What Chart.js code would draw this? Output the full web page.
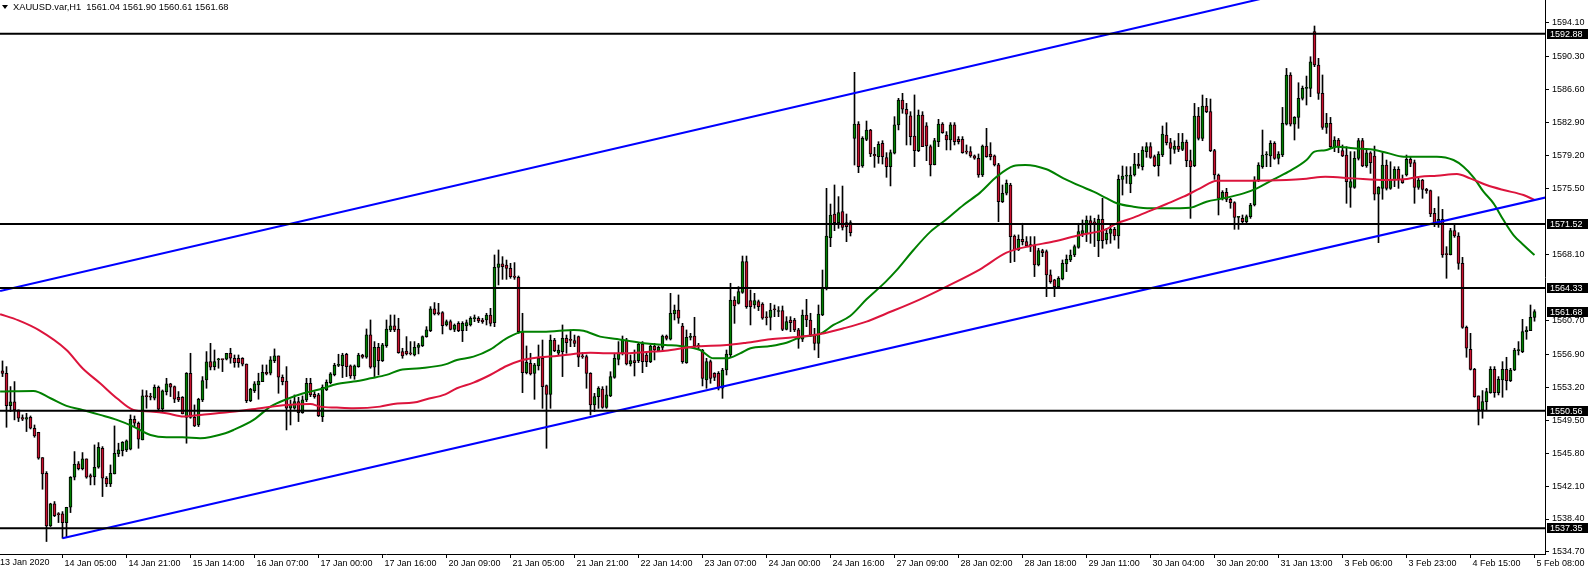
<!DOCTYPE html>
<html><head><meta charset="utf-8">
<script src="https://cdn.jsdelivr.net/npm/chart.js@4.4.1/dist/chart.umd.min.js"></script>
<style>html,body{margin:0;padding:0;background:#fff;overflow:hidden}canvas{display:block}</style>
</head><body>
<canvas id="c" width="1588" height="570"></canvas>
<script>
const chartTitle = 'XAUUSD.var,H1  1561.04 1561.90 1560.61 1561.68';

const opens = [
1555.03,1554.76,1551.13,1551.55,1550.65,1549.79,1549.60,1549.82,1548.59,1548.14,
1545.30,1543.54,1537.62,1540.10,1538.97,1538.97,1538.00,1539.72,1543.09,1544.59,
1544.06,1545.15,1543.28,1543.16,1544.21,1546.34,1542.98,1542.34,1543.46,1545.71,
1546.08,1546.16,1546.23,1549.60,1549.15,1547.28,1552.22,1552.15,1551.96,1553.19,
1550.76,1552.71,1553.57,1553.27,1552.07,1552.07,1549.82,1554.76,1549.82,1548.96,
1551.77,1554.02,1556.07,1555.51,1556.26,1556.34,1556.34,1557.01,1556.45,1556.45,
1556.45,1555.81,1551.70,1552.82,1553.46,1553.83,1554.88,1554.77,1556.19,1556.71,
1554.32,1553.90,1550.84,1550.84,1551.58,1550.35,1551.77,1553.64,1552.41,1552.33,
1549.90,1552.89,1553.72,1554.62,1555.66,1555.63,1556.90,1555.59,1554.47,1555.51,
1556.82,1556.56,1559.07,1555.44,1557.68,1556.19,1557.87,1559.63,1560.08,1559.74,
1557.20,1557.27,1556.97,1556.82,1557.68,1557.87,1558.88,1559.56,1561.99,1561.50,
1561.58,1560.19,1560.56,1559.70,1560.37,1559.55,1560.07,1560.19,1560.90,1560.94,
1560.75,1560.75,1561.31,1560.45,1566.66,1567.04,1566.92,1566.55,1565.69,1565.54,
1559.44,1554.83,1555.88,1554.76,1555.58,1556.44,1553.38,1552.40,1558.50,1557.01,
1557.19,1558.69,1558.50,1558.43,1558.88,1556.63,1556.63,1554.76,1551.20,1552.14,
1553.00,1550.94,1552.21,1554.31,1556.33,1557.01,1558.50,1555.81,1556.18,1556.18,
1558.05,1556.82,1556.07,1557.83,1557.30,1557.68,1558.95,1558.58,1561.42,1561.87,
1560.07,1555.96,1558.80,1558.95,1557.83,1557.38,1554.01,1556.07,1554.76,1554.76,
1553.08,1555.13,1556.82,1562.99,1562.62,1563.85,1567.30,1562.92,1562.43,1562.81,
1562.54,1561.05,1561.05,1561.95,1561.70,1561.80,1559.70,1560.75,1560.75,1559.63,
1558.58,1561.31,1560.75,1559.06,1558.13,1561.31,1564.30,1569.99,1572.65,1571.68,
1572.91,1571.68,1571.68,1581.15,1582.75,1578.04,1581.03,1582.08,1579.35,1579.09,
1580.58,1578.98,1577.97,1579.47,1582.65,1585.45,1584.41,1583.66,1581.41,1579.77,
1583.77,1582.54,1580.21,1578.20,1580.78,1582.76,1581.52,1580.96,1582.65,1581.04,
1581.04,1579.65,1579.65,1579.17,1578.91,1577.03,1580.29,1579.39,1579.17,1578.16,
1574.04,1574.98,1575.91,1570.18,1568.61,1569.81,1569.55,1569.10,1569.17,1566.93,
1568.54,1568.43,1565.81,1565.25,1564.50,1565.36,1567.04,1567.49,1568.05,1568.91,
1570.41,1570.41,1571.91,1571.68,1569.66,1572.06,1569.73,1570.48,1570.93,1570.18,
1576.54,1576.91,1576.02,1577.03,1578.26,1577.96,1579.65,1580.21,1579.09,1578.07,
1579.27,1581.52,1580.66,1579.91,1580.28,1579.91,1580.73,1578.64,1578.07,1583.65,
1581.14,1584.77,1584.14,1579.76,1577.03,1574.41,1575.08,1574.30,1573.92,1572.27,
1572.16,1571.79,1572.35,1573.66,1576.47,1577.96,1579.27,1579.16,1580.58,1578.90,
1579.27,1582.75,1588.26,1582.75,1583.50,1585.64,1586.76,1586.76,1593.12,1589.38,
1586.20,1582.38,1582.83,1580.21,1580.96,1579.76,1579.27,1575.64,1575.64,1578.90,
1580.88,1578.04,1579.53,1579.16,1574.89,1575.53,1578.15,1575.53,1576.47,1577.66,
1576.54,1577.03,1578.79,1578.41,1575.64,1576.47,1575.42,1575.27,1572.72,1571.53,
1572.05,1568.12,1568.08,1570.78,1570.18,1567.11,1559.92,1557.45,1555.21,1552.22,
1550.64,1551.58,1552.59,1555.21,1552.59,1554.01,1555.21,1553.94,1555.13,1557.31,
1557.19,1559.44,1559.55,1561.04];

const highs = [
1556.15,1555.51,1553.27,1553.83,1550.65,1550.09,1550.27,1549.97,1548.96,1548.14,
1545.30,1543.72,1540.17,1540.36,1539.12,1539.23,1539.72,1543.16,1545.97,1544.85,
1545.86,1545.15,1543.46,1546.72,1546.98,1546.53,1543.16,1544.47,1548.85,1546.91,
1547.09,1547.28,1550.09,1549.97,1549.30,1552.89,1552.82,1552.52,1553.46,1553.34,
1552.89,1554.20,1553.64,1553.34,1552.71,1552.15,1554.84,1557.01,1551.21,1551.96,
1554.39,1557.20,1558.13,1557.38,1556.45,1556.34,1557.01,1557.57,1556.82,1556.82,
1556.52,1555.81,1553.08,1553.83,1554.77,1555.70,1555.70,1556.64,1557.50,1556.71,
1554.58,1555.51,1551.77,1552.33,1552.07,1552.22,1554.20,1554.20,1552.71,1552.52,
1553.46,1554.02,1554.84,1555.89,1556.90,1557.01,1557.01,1555.70,1555.70,1557.01,
1556.90,1559.74,1560.75,1558.32,1558.13,1558.13,1560.75,1561.31,1561.31,1560.94,
1557.57,1558.88,1558.32,1558.32,1558.13,1558.96,1560.00,1562.25,1562.70,1562.62,
1561.69,1560.75,1560.75,1560.30,1560.56,1560.56,1560.75,1561.12,1561.31,1561.12,
1560.94,1561.50,1562.06,1568.05,1568.61,1567.86,1567.48,1567.11,1567.19,1565.69,
1561.50,1557.83,1557.01,1555.88,1557.94,1558.50,1553.45,1559.06,1558.69,1557.94,
1560.19,1559.06,1559.63,1559.06,1558.95,1557.08,1556.82,1554.83,1552.51,1553.26,
1553.26,1553.34,1554.94,1557.01,1558.32,1558.95,1558.69,1556.82,1557.38,1558.13,
1558.32,1557.19,1557.94,1558.13,1557.83,1559.06,1559.06,1563.74,1562.43,1563.56,
1560.37,1559.63,1559.25,1561.05,1558.13,1557.45,1556.44,1556.26,1554.83,1554.95,
1555.32,1557.38,1564.87,1563.37,1564.49,1567.93,1567.93,1564.12,1563.74,1562.99,
1562.69,1561.68,1562.62,1562.43,1562.25,1562.32,1561.12,1561.12,1560.94,1559.81,
1561.87,1563.07,1561.50,1559.81,1562.43,1566.36,1575.53,1573.77,1575.91,1574.60,
1575.79,1572.65,1571.90,1588.56,1583.02,1581.33,1583.09,1582.16,1580.13,1580.77,
1580.88,1579.54,1579.84,1583.58,1585.64,1586.20,1585.08,1584.14,1586.02,1584.33,
1584.14,1582.91,1580.40,1581.15,1583.28,1582.91,1581.90,1582.91,1582.91,1581.34,
1581.34,1580.40,1580.21,1579.28,1579.39,1580.40,1582.27,1580.66,1579.28,1578.34,
1575.91,1576.47,1576.10,1570.30,1570.30,1571.61,1570.11,1570.11,1570.11,1568.80,
1568.69,1568.61,1566.37,1565.32,1565.62,1567.49,1568.05,1568.61,1569.17,1571.61,
1571.98,1572.43,1572.43,1572.17,1572.54,1574.41,1571.04,1571.41,1571.15,1577.03,
1578.04,1577.96,1577.96,1579.46,1579.46,1580.21,1580.66,1580.66,1579.27,1579.65,
1582.53,1582.90,1581.14,1580.88,1581.70,1581.70,1580.96,1579.83,1585.07,1584.62,
1586.01,1585.64,1585.56,1579.91,1577.14,1575.27,1575.53,1574.41,1574.03,1572.35,
1572.54,1572.54,1573.85,1576.84,1578.41,1582.08,1579.65,1580.88,1580.77,1579.65,
1584.62,1589.00,1588.52,1583.58,1587.39,1587.02,1588.14,1590.31,1593.76,1590.13,
1588.26,1583.95,1583.50,1581.33,1581.14,1580.40,1580.21,1579.65,1579.65,1581.14,
1581.14,1579.83,1579.65,1580.28,1575.72,1579.53,1578.71,1578.52,1577.96,1577.96,
1577.03,1579.27,1579.09,1578.71,1576.65,1576.54,1575.53,1575.34,1573.29,1574.59,
1573.17,1568.98,1571.04,1571.53,1570.55,1567.78,1560.07,1559.25,1555.32,1552.22,
1552.82,1553.08,1555.51,1555.51,1554.39,1556.07,1556.56,1555.32,1557.57,1558.32,
1560.82,1560.00,1562.43,1561.90];

const lows = [
1554.39,1548.70,1550.46,1549.53,1549.34,1549.45,1548.22,1548.51,1547.58,1545.11,
1541.74,1535.87,1537.55,1538.67,1538.00,1536.24,1536.35,1539.12,1542.79,1543.91,
1543.91,1542.98,1542.23,1542.23,1544.10,1540.92,1542.04,1542.04,1543.46,1545.41,
1545.48,1545.97,1546.16,1548.78,1546.34,1547.28,1550.84,1551.77,1551.77,1550.65,
1550.46,1552.33,1552.15,1551.47,1551.58,1550.20,1546.91,1549.71,1548.78,1548.78,
1551.58,1553.08,1555.14,1555.14,1555.33,1554.95,1556.26,1555.89,1555.44,1555.44,
1555.59,1551.47,1551.58,1552.60,1551.85,1553.83,1554.58,1554.58,1555.96,1552.52,
1553.46,1548.40,1548.96,1550.72,1549.34,1550.27,1551.58,1552.14,1551.96,1549.90,
1549.34,1552.82,1553.57,1554.47,1555.51,1554.28,1554.39,1554.20,1554.09,1555.44,
1556.45,1556.45,1555.33,1554.39,1554.58,1556.08,1557.68,1559.44,1559.44,1557.01,
1556.45,1556.82,1556.82,1556.71,1556.94,1557.76,1558.81,1559.44,1561.31,1561.31,
1559.18,1560.07,1559.63,1559.44,1559.44,1558.32,1559.55,1560.07,1560.56,1560.45,
1560.37,1560.19,1560.07,1560.00,1564.68,1565.31,1565.31,1565.43,1565.31,1559.25,
1552.59,1554.69,1554.57,1551.84,1555.13,1550.83,1546.34,1550.83,1557.19,1556.82,
1554.39,1557.01,1557.75,1557.75,1555.51,1556.44,1553.08,1550.08,1550.46,1550.83,
1550.83,1550.83,1552.14,1554.20,1555.70,1556.82,1555.70,1555.58,1554.46,1555.96,
1554.83,1555.51,1555.96,1556.26,1557.19,1557.38,1558.50,1558.50,1560.75,1560.37,
1555.88,1555.88,1558.50,1557.57,1557.45,1553.34,1553.08,1553.64,1553.94,1552.89,
1551.95,1554.57,1556.63,1560.37,1562.54,1563.74,1562.06,1560.19,1562.06,1561.80,
1560.82,1560.19,1559.63,1561.12,1561.12,1559.55,1559.63,1559.44,1559.44,1557.57,
1558.32,1560.00,1558.88,1557.38,1556.52,1561.23,1564.12,1568.98,1570.78,1571.04,
1570.85,1569.54,1570.18,1578.15,1577.29,1577.89,1580.88,1579.09,1577.89,1578.34,
1578.26,1576.77,1575.80,1579.39,1582.09,1583.96,1580.40,1580.40,1577.97,1579.65,
1580.21,1578.64,1576.92,1578.16,1580.21,1581.71,1579.84,1579.84,1580.40,1580.51,
1579.47,1579.39,1579.02,1578.79,1576.77,1576.85,1579.02,1578.72,1578.04,1571.79,
1573.93,1574.79,1567.19,1567.30,1568.54,1569.17,1568.99,1568.43,1565.62,1566.82,
1567.86,1563.37,1564.87,1563.37,1564.50,1565.25,1566.18,1567.30,1567.86,1568.80,
1570.11,1569.55,1569.36,1568.99,1567.86,1568.80,1569.28,1569.36,1569.73,1568.79,
1574.78,1576.09,1575.04,1576.91,1577.78,1577.59,1579.01,1578.90,1577.96,1576.91,
1579.09,1580.40,1578.26,1579.46,1579.65,1579.76,1577.96,1572.16,1577.96,1580.96,
1580.88,1584.03,1579.65,1576.54,1572.54,1574.22,1574.03,1573.29,1570.93,1570.93,
1571.67,1571.67,1572.16,1573.55,1576.28,1577.78,1577.96,1577.96,1578.79,1578.26,
1579.09,1582.64,1582.53,1580.96,1582.27,1585.45,1584.89,1585.82,1589.19,1585.52,
1582.15,1581.70,1580.02,1579.65,1579.53,1579.09,1573.85,1573.40,1575.53,1578.71,
1577.96,1577.89,1577.21,1574.22,1569.43,1574.30,1575.34,1575.42,1575.72,1575.53,
1576.09,1576.91,1577.96,1573.85,1575.42,1574.41,1574.97,1572.35,1571.23,1571.15,
1567.78,1565.43,1568.05,1570.03,1566.44,1559.81,1556.56,1555.13,1552.07,1548.96,
1549.71,1550.57,1552.52,1552.07,1552.33,1552.07,1552.89,1553.83,1555.06,1556.82,
1557.08,1558.58,1559.55,1560.61];

const closes = [
1554.76,1551.13,1551.55,1550.65,1549.71,1549.60,1549.79,1548.59,1547.73,1545.22,
1543.46,1537.62,1540.10,1538.78,1538.90,1538.00,1539.72,1543.09,1544.55,1544.06,
1545.15,1543.09,1543.09,1544.21,1546.46,1542.98,1542.34,1543.54,1545.78,1546.16,
1547.02,1547.17,1549.60,1549.15,1547.36,1552.22,1552.15,1552.07,1553.19,1550.72,
1552.78,1553.57,1553.19,1551.85,1551.77,1550.20,1554.76,1549.82,1548.85,1551.85,
1553.94,1556.04,1555.44,1556.07,1556.30,1556.30,1557.01,1556.45,1555.96,1555.96,
1555.78,1551.70,1552.97,1553.57,1553.90,1554.88,1554.69,1556.26,1556.71,1554.32,
1553.83,1550.84,1551.21,1551.58,1550.35,1551.77,1553.64,1552.33,1552.14,1550.01,
1553.19,1553.76,1554.69,1555.66,1555.70,1556.82,1555.51,1554.47,1555.59,1556.82,
1556.56,1559.07,1555.44,1557.68,1556.19,1557.95,1559.74,1560.08,1559.63,1557.09,
1556.71,1556.94,1556.94,1557.68,1557.95,1558.88,1559.63,1561.99,1561.43,1561.46,
1560.12,1560.56,1559.70,1560.19,1559.55,1560.37,1560.45,1560.94,1560.94,1560.64,
1560.56,1561.31,1560.37,1566.66,1567.04,1566.74,1566.55,1565.61,1565.54,1559.44,
1554.83,1555.99,1554.69,1555.70,1556.44,1553.26,1552.40,1558.50,1557.30,1557.38,
1558.69,1558.20,1558.45,1558.13,1556.56,1556.60,1554.76,1551.20,1552.14,1553.08,
1550.94,1552.33,1554.39,1556.44,1557.01,1558.50,1555.81,1556.18,1555.96,1558.05,
1556.07,1556.07,1557.83,1557.38,1557.68,1558.95,1558.69,1561.50,1561.87,1560.94,
1556.07,1558.80,1558.88,1557.83,1557.94,1554.20,1556.07,1554.20,1554.31,1553.08,
1555.13,1556.93,1562.99,1562.32,1563.93,1567.30,1562.25,1562.25,1562.92,1562.25,
1560.94,1561.00,1561.87,1561.90,1561.75,1559.70,1560.56,1560.45,1559.63,1558.58,
1561.31,1560.75,1559.06,1558.13,1561.42,1564.30,1570.18,1572.54,1571.68,1572.80,
1571.15,1571.23,1570.55,1582.75,1577.96,1581.15,1582.08,1579.39,1579.16,1580.47,
1579.09,1577.97,1579.54,1582.65,1585.45,1584.41,1583.85,1581.34,1579.77,1583.77,
1580.21,1580.29,1578.16,1580.89,1582.76,1581.79,1580.96,1582.65,1580.78,1580.78,
1579.54,1579.60,1579.17,1578.91,1577.03,1580.29,1579.09,1579.09,1578.16,1574.04,
1574.98,1576.10,1570.11,1568.61,1569.81,1569.55,1569.06,1569.13,1566.93,1568.54,
1568.31,1565.81,1565.06,1564.50,1565.43,1567.12,1567.57,1568.05,1568.99,1570.67,
1570.78,1571.98,1571.53,1571.65,1572.06,1569.66,1570.48,1570.93,1570.18,1576.54,
1576.91,1576.95,1577.03,1578.26,1578.04,1579.83,1580.21,1579.01,1578.07,1579.39,
1581.63,1580.66,1580.02,1580.28,1579.91,1580.73,1578.64,1577.96,1583.65,1581.14,
1584.77,1584.14,1579.76,1577.03,1574.41,1575.08,1574.30,1573.92,1572.27,1572.30,
1571.79,1572.35,1573.66,1576.47,1578.15,1579.27,1579.30,1580.58,1578.90,1579.39,
1582.83,1588.26,1582.75,1583.50,1585.64,1586.76,1586.80,1589.75,1589.38,1586.20,
1582.38,1582.83,1580.21,1580.96,1580.21,1579.16,1576.28,1576.28,1578.90,1580.88,
1578.04,1579.53,1578.41,1574.89,1575.64,1578.15,1575.53,1576.47,1577.66,1576.54,
1576.17,1578.79,1578.34,1575.64,1576.47,1575.42,1575.27,1572.65,1571.53,1572.05,
1568.05,1568.08,1570.78,1570.18,1567.11,1559.92,1557.57,1555.21,1552.14,1550.64,
1551.58,1552.70,1555.21,1552.59,1554.09,1555.21,1553.94,1555.13,1557.38,1557.35,
1559.44,1559.62,1561.05,1561.68];

const xTickBars = [15,31,47,63,79,95,111,127,143,159,175,191,207,223,239,255,271,287,303,319,335,351,367,383];
const xTickLabels = ['14 Jan 05:00','14 Jan 21:00','15 Jan 14:00','16 Jan 07:00','17 Jan 00:00','17 Jan 16:00',
  '20 Jan 09:00','21 Jan 05:00','21 Jan 21:00','22 Jan 14:00','23 Jan 07:00','24 Jan 00:00','24 Jan 16:00',
  '27 Jan 09:00','28 Jan 02:00','28 Jan 18:00','29 Jan 11:00','30 Jan 04:00','30 Jan 20:00','31 Jan 13:00',
  '3 Feb 06:00','3 Feb 23:00','4 Feb 15:00','5 Feb 08:00'];
const firstDateLabel = '13 Jan 2020';
const yTickValues = [1594.10,1590.30,1586.60,1582.90,1579.20,1575.50,1568.10,1560.70,1556.90,1553.20,1549.50,1545.80,1542.10,1538.40,1534.70];

const levelLines = [1592.88, 1571.52, 1564.33, 1550.56, 1537.35];
const lastPrice = 1561.68;

const fastMaBars = [-0.6,7.75,12,16,20,24.4,28.6,32.75,37,41,45,49.4,55.7,57.75,62.75,67,71,75.25,79.4,83.6,87.75,92,96,99.4,104.4,110.7,113.6,117.75,122,126,130.25,134.4,138.6,142.75,145.25,149.4,153.6,159.4,165.7,169.4,174.4,177.75,181,184.4,187,192,196,199.4,204.4,207.75,211.9,216,220.7,223.6,227.75,232,236,240.25,244.4,248.6,252.75,255.7,261,265.25,269.4,272.75,275.7,278.6,282.75,287,291,296.9,301,305.25,310.25,313.6,317.75,322,326,328,330.7,333.6,337.75,341.9,346,350.25,358.6,362.75,365.25,367.75,370.25,372.75,375.25,377.75,380.25,383];
const fastMaValues = [1552.71,1552.78,1551.96,1551.10,1550.65,1550.09,1549.53,1548.78,1547.84,1547.58,1547.58,1547.47,1548.03,1548.40,1549.53,1551.02,1551.85,1552.52,1552.97,1553.57,1553.83,1554.20,1554.58,1555.14,1555.33,1555.76,1556.26,1556.63,1557.45,1558.69,1559.44,1559.44,1559.51,1559.63,1559.55,1558.88,1558.62,1558.20,1557.94,1557.83,1557.38,1556.44,1556.44,1557.00,1557.57,1557.83,1558.20,1558.80,1559.18,1560.19,1561.20,1563.07,1565.00,1566.37,1568.61,1570.67,1572.06,1573.67,1575.05,1576.85,1578.04,1578.16,1577.67,1576.66,1575.80,1575.16,1574.50,1573.85,1573.47,1573.29,1573.29,1573.36,1574.03,1574.41,1574.97,1575.53,1576.54,1577.52,1578.71,1579.65,1579.80,1580.21,1580.02,1579.91,1579.53,1579.09,1579.09,1578.71,1577.96,1576.77,1575.16,1573.85,1571.97,1570.29,1569.17,1568.05];

const slowMaBars = [-0.6,4,9,16,20,24.4,28.6,32.75,37,41,45.25,49.4,55.7,64.4,71,77,79.4,83.6,87.75,94.4,97.75,102.75,106,110.7,113.6,117.75,121.9,126,129.4,134.4,138.6,142.75,147,151,156,161,165.7,172.75,181,186,192,197.75,204.4,210.25,216,220.7,229.4,236,244.4,251,257,262.75,269.4,275.7,278.6,282.75,287,291,295.25,299.4,303.6,312,321,326,330.7,337.75,346,350.25,354.4,358.6,363.6,366.9,371,375.25,380.25,383];
const slowMaValues = [1561.40,1560.70,1559.63,1557.38,1555.33,1553.64,1551.96,1550.65,1550.46,1550.27,1549.90,1550.09,1550.35,1550.84,1551.21,1551.32,1551.02,1550.91,1550.84,1551.02,1551.32,1551.47,1551.85,1552.40,1553.08,1553.71,1554.57,1555.58,1556.18,1556.56,1556.71,1556.93,1557.08,1557.01,1557.01,1557.16,1557.30,1557.75,1557.94,1558.20,1558.58,1558.80,1559.18,1559.81,1560.56,1561.42,1563.07,1564.50,1566.44,1568.31,1569.06,1569.55,1570.30,1570.90,1571.60,1572.24,1573.02,1573.77,1574.59,1575.53,1576.39,1576.39,1576.47,1576.62,1576.84,1576.65,1576.47,1576.54,1576.84,1576.95,1577.14,1576.65,1575.90,1575.34,1574.78,1574.22];

const upperTrendBars = [-0.6, 386];
const upperTrendValues = [1564.00, 1604.24];
const lowerTrendBars = [15, 385.75];
const lowerTrendValues = [1536.24, 1574.50];

const FONT = '"Liberation Sans", Arial, sans-serif';
Chart.defaults.font.family = FONT;
Chart.defaults.font.size = 9;
Chart.defaults.color = '#000';

const UP = '#008000', DOWN = '#c8102e';
const barIdx = opens.map((_, i) => i);
const bodyColors = barIdx.map(i => closes[i] >= opens[i] ? UP : DOWN);

const pts = (xs, ys) => xs.map((x, i) => ({x, y: ys[i]}));
const lineDs = (data, color, order) => ({type:'line', data, borderColor:color, borderWidth:2, pointRadius:0, fill:false, tension:0, order, cubicInterpolationMode:'monotone'});

const datasets = [];
levelLines.forEach(v => datasets.push(lineDs([{x:-1,y:v},{x:387,y:v}], '#000', 1)));
datasets.push(lineDs(pts(upperTrendBars, upperTrendValues), '#0000ff', 1));
datasets.push(lineDs(pts(lowerTrendBars, lowerTrendValues), '#0000ff', 1));
datasets.push(lineDs(pts(slowMaBars, slowMaValues), '#dc143c', 2));
datasets.push(lineDs(pts(fastMaBars, fastMaValues), '#008000', 2));
datasets.push({type:'bar', data: barIdx.map(i => ({x:i, y:[opens[i], closes[i]]})),
  backgroundColor: bodyColors, borderColor:'#000', borderWidth:1, borderSkipped:false,
  barThickness:3, minBarLength:1, grouped:false, order:3});
datasets.push({type:'bar', data: barIdx.map(i => ({x:i, y:[lows[i], highs[i]]})),
  backgroundColor:'#000', borderWidth:0, barThickness:1, minBarLength:1, grouped:false, order:4});

const overlay = {
  id: 'overlay',
  afterDraw(chart) {
    const ctx = chart.ctx, ys = chart.scales.y, a = chart.chartArea;
    ctx.save();
    ctx.font = '9px ' + FONT;
    ctx.textBaseline = 'middle';
    ctx.textAlign = 'left';
    [...levelLines, lastPrice].forEach(v => {
      const py = Math.round(ys.getPixelForValue(v));
      ctx.fillStyle = '#000';
      ctx.fillRect(a.right + 2, py - 5, 43, 10);
      ctx.fillStyle = '#fff';
      ctx.fillText(v.toFixed(2), a.right + 5, py + 0.5);
    });
    // header
    ctx.fillStyle = '#000';
    ctx.beginPath(); ctx.moveTo(2, 5); ctx.lineTo(8, 5); ctx.lineTo(5, 9); ctx.closePath(); ctx.fill();
    ctx.font = '9.3px ' + FONT;
    ctx.fillText(chartTitle, 13, 7.5);
    // first date label
    ctx.font = '9px ' + FONT;
    ctx.textBaseline = 'top';
    ctx.fillText(firstDateLabel, 0, a.bottom + 4);
    ctx.restore();
  }
};

new Chart(document.getElementById('c'), {
  type: 'bar',
  data: { datasets },
  options: {
    responsive: false, animation: false, devicePixelRatio: 1, events: [],
    layout: { padding: 0 },
    plugins: { legend: {display:false}, tooltip: {enabled:false}, title: {display:false} },
    scales: {
      x: {
        type: 'linear', min: -0.625, max: 385.625, offset: false,
        afterBuildTicks: s => { s.ticks = xTickBars.map(v => ({value: v})); },
        afterFit: s => { s.height = 16; s.paddingLeft = 0; s.paddingRight = 0; },
        ticks: { autoSkip:false, maxRotation:0, align:'start', labelOffset:2, padding:0,
                 callback: v => xTickLabels[xTickBars.indexOf(v)], font:{size:9}, color:'#000' },
        grid: { drawOnChartArea:false, drawTicks:true, tickLength:4, color:'#000', offset:false },
        border: { display:true, color:'#000', width:1 }
      },
      y: {
        type: 'linear', position: 'right', min: 1534.47, max: 1596.68,
        afterBuildTicks: s => { s.ticks = yTickValues.map(v => ({value: v})); },
        afterFit: s => { s.width = 43; s.paddingTop = 0; s.paddingBottom = 0; },
        ticks: { autoSkip:false, padding:3, callback: v => v.toFixed(2), font:{size:9}, color:'#000' },
        grid: { drawOnChartArea:false, drawTicks:true, tickLength:4, color:'#000' },
        border: { display:true, color:'#000', width:1 }
      }
    }
  },
  plugins: [overlay]
});
</script>
</body></html>
